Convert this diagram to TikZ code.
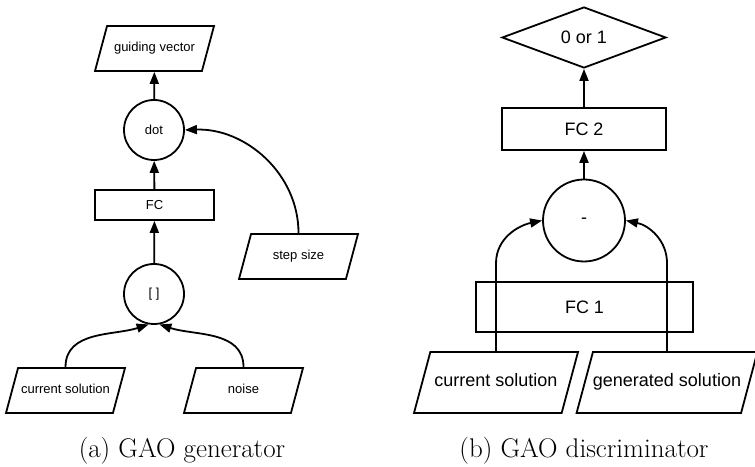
\documentclass[tikz,border=0pt]{standalone}
\usepackage{fontspec}
\newfontfamily\diagfont{Liberation Sans}
\usepackage{tikz}
\usetikzlibrary{arrows.meta,shapes.geometric,positioning}

\begin{document}
\begin{tikzpicture}[x=1pt,y=1pt,
  every node/.style={font=\diagfont},
  io/.style={draw,trapezium,trapezium left angle=75,trapezium right angle=105,
    trapezium stretches body=true,inner xsep=0pt},
  iosmall/.style={io,text height=9.5pt,text depth=3.5pt,inner ysep=16pt,minimum width=119pt},
  iobig/.style={io,text height=13pt,text depth=5pt,inner ysep=21.5pt},
  layer/.style={draw,rectangle,inner sep=0pt},
  op/.style={draw,circle,inner sep=0pt},
  arr/.style={-{Triangle[length=12pt,width=9pt]}},
  line width=1.8pt]
  \useasboundingbox (0,0) rectangle (755,466);

  % (a) generator
  \begin{scope}[every node/.append style={font=\diagfont\fontsize{13}{15}\selectfont}]
  \node[iosmall] (gv) at (154.5,417.5) {guiding vector};
  \node[op,minimum size=60pt] (dot) at (154,336) {dot};
  \node[layer,minimum width=119pt,minimum height=30pt] (fc) at (154.5,261) {FC};
  \node[op,minimum size=60pt] (cat) at (154,172) {[ ]};
  \node[iosmall] (stepsz) at (298.5,209.5) {step size};
  \node[iosmall] (cur) at (65.5,75.5) {current solution};
  \node[iosmall] (noise) at (243.5,75.5) {noise};
  \end{scope}

  \draw[arr] (dot) -- (gv);      % output
  \draw[arr] (fc) -- (dot);
  \draw[arr] (cat) -- (fc);
  \draw[arr] (stepsz.north) to[out=90,in=2] (dot.east); % step size into dot
  \draw[arr] (cur.north) to[out=90,in=198] (cat.-100);
  \draw[arr] (noise.north) to[out=90,in=-18] (cat.-80);

  % (b) discriminator
  \begin{scope}[every node/.append style={font=\diagfont\fontsize{18}{21}\selectfont}]
  \node[draw,diamond,aspect=2.7,inner sep=0pt,minimum width=164pt,minimum height=61pt] (out) at (584,428.5) {0 or 1};
  \node[layer,minimum width=164pt,minimum height=42pt] (fctwo) at (584,337) {FC 2};
  \node[op,minimum size=82pt] (diff) at (584,245.5) {-};
  \node[layer,minimum width=217pt,minimum height=50pt] (fcone) at (584.5,159) {FC 1};
  \node[iobig,minimum width=164pt] (cur2) at (496,83.5) {current solution};
  \node[iobig,minimum width=180pt] (gen) at (667,83.5) {generated solution};
  \end{scope}

  \draw[arr] (fctwo) -- (out);
  \draw[arr] (diff) -- (fctwo);
  \draw[arr] (cur2.north) -- ++(0,88) to[out=90,in=192] (diff.west);  % through FC 1
  \draw[arr] (gen.north) -- ++(0,88) to[out=90,in=-12] (diff.east);

  % captions
  \node[font=\fontsize{27}{32}\selectfont] (capa) at (182,15) {(a) GAO generator};
  \node[font=\fontsize{27}{32}\selectfont] (capb) at (584,15) {(b) GAO discriminator};
\end{tikzpicture}
\end{document}
